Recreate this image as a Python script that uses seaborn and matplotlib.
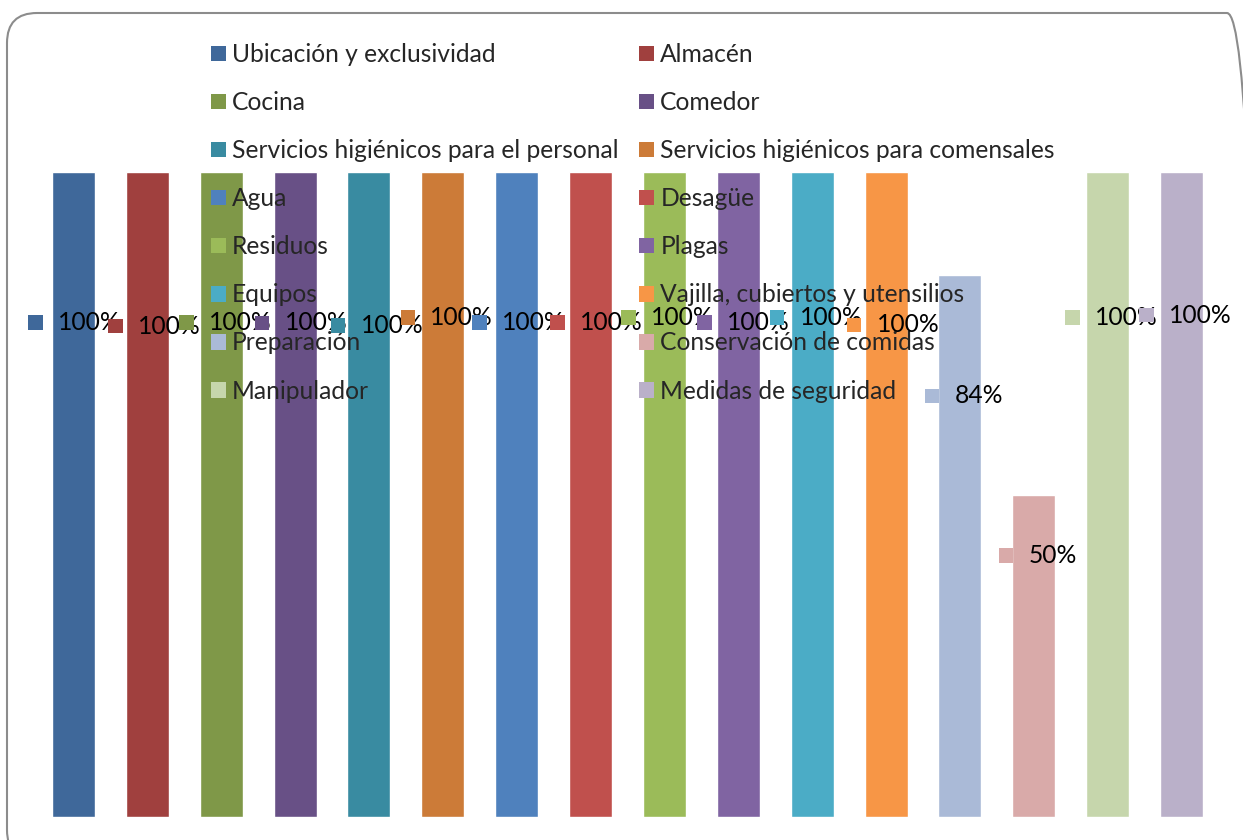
import matplotlib
matplotlib.use("Agg")
import matplotlib.pyplot as plt
from matplotlib.patches import Patch, Rectangle, FancyBboxPatch
from matplotlib.offsetbox import AnnotationBbox, HPacker, DrawingArea, TextArea
from matplotlib.transforms import IdentityTransform
import seaborn as sns
import pandas as pd

# Aspectos evaluados y porcentaje de cumplimiento
aspectos = [
    "Ubicación y exclusividad", "Almacén", "Cocina", "Comedor",
    "Servicios higiénicos para el personal", "Servicios higiénicos para comensales",
    "Agua", "Desagüe", "Residuos", "Plagas", "Equipos",
    "Vajilla, cubiertos y utensilios", "Preparación", "Conservación de comidas",
    "Manipulador", "Medidas de seguridad",
]
cumplimiento = [100, 100, 100, 100, 100, 100, 100, 100, 100, 100, 100, 100, 84, 50, 100, 100]
etiquetas = [f"{v}%" for v in cumplimiento]

colores = [
    "#3F689A", "#A0403E", "#7F9848", "#685086", "#398BA1", "#CC7B38",
    "#4F81BD", "#C0504D", "#9BBB59", "#8064A2", "#4BACC6", "#F79646",
    "#AABAD7", "#D9AAA9", "#C6D6AC", "#BAB0C9",
]

# Where each value label sits (height on the value axis, horizontal nudge in px)
label_alturas = [76.7, 76.1, 76.7, 76.6, 76.2, 77.4, 76.7, 76.7,
                 77.4, 76.7, 77.4, 76.3, 65.3, 40.5, 77.4, 77.8]
label_dx_px = [1, 7, 4, 6, 8, 4, 2, 6, 3, 5, 4, 7, 4, 4, 4, 4]

sns.set_theme(style="white")
plt.rcParams["font.family"] = ["Lato", "DejaVu Sans"]
FS = 17.7

W, H, DPI = 1243, 840, 100
fig = plt.figure(figsize=(W / DPI, H / DPI), dpi=DPI)

# rounded chart frame (pixel coordinates, origin bottom-left)
frame = FancyBboxPatch((7, -20), 1250, H - 13 + 20,
                       boxstyle="round,pad=0,rounding_size=30",
                       transform=IdentityTransform(), facecolor="none",
                       edgecolor="#8C8C8C", linewidth=1.5, zorder=-1)
fig.patches.append(frame)

step = 73.87
left = (73.5 - step / 2) / W
bottom = (H - 817) / H
ax = fig.add_axes([left, bottom, 16 * step / W, 645 / H])
ax.patch.set_alpha(0)

df = pd.DataFrame({"aspecto": aspectos, "valor": cumplimiento})
sns.barplot(data=df, x="aspecto", y="valor", hue="aspecto", palette=colores,
            order=aspectos, hue_order=aspectos, width=0.582, legend=False,
            saturation=1, ax=ax)

ax.set_xlim(-0.5, 15.5)
ax.set_ylim(0, 100)
ax.set_xlabel("")
ax.set_ylabel("")
ax.set_xticks([])
ax.set_yticks([])
for s in ax.spines.values():
    s.set_visible(False)

# value labels with a colour key next to each
for i, (txt, yv, dx) in enumerate(zip(etiquetas, label_alturas, label_dx_px)):
    da = DrawingArea(10.5, 10.5, 0, 0)
    da.add_artist(Rectangle((0, 0), 10.5, 10.5, facecolor=colores[i], edgecolor="none"))
    ta = TextArea(txt, textprops=dict(fontsize=FS, color="black"))
    box = HPacker(children=[da, ta], align="center", pad=0, sep=11)
    ab = AnnotationBbox(box, (i + dx / step, yv), frameon=False,
                        box_alignment=(0.5, 0.5), zorder=5, annotation_clip=False)
    ax.add_artist(ab)

# legend laid out row by row in two columns
handles = [Patch(facecolor=c, edgecolor="none") for c in colores]
order = list(range(0, 16, 2)) + list(range(1, 16, 2))
leg = ax.legend([handles[k] for k in order], [aspectos[k] for k in order],
                ncol=2, loc="upper left",
                bbox_to_anchor=(211 / W, 1 - 43 / H), bbox_transform=fig.transFigure,
                frameon=False, fontsize=FS, handlelength=0.6, handleheight=0.6,
                handletextpad=0.25, columnspacing=0.85, labelspacing=1.02,
                borderpad=0, borderaxespad=0)
leg.set_zorder(4)

fig.savefig("out.png", dpi=DPI, facecolor="white")
